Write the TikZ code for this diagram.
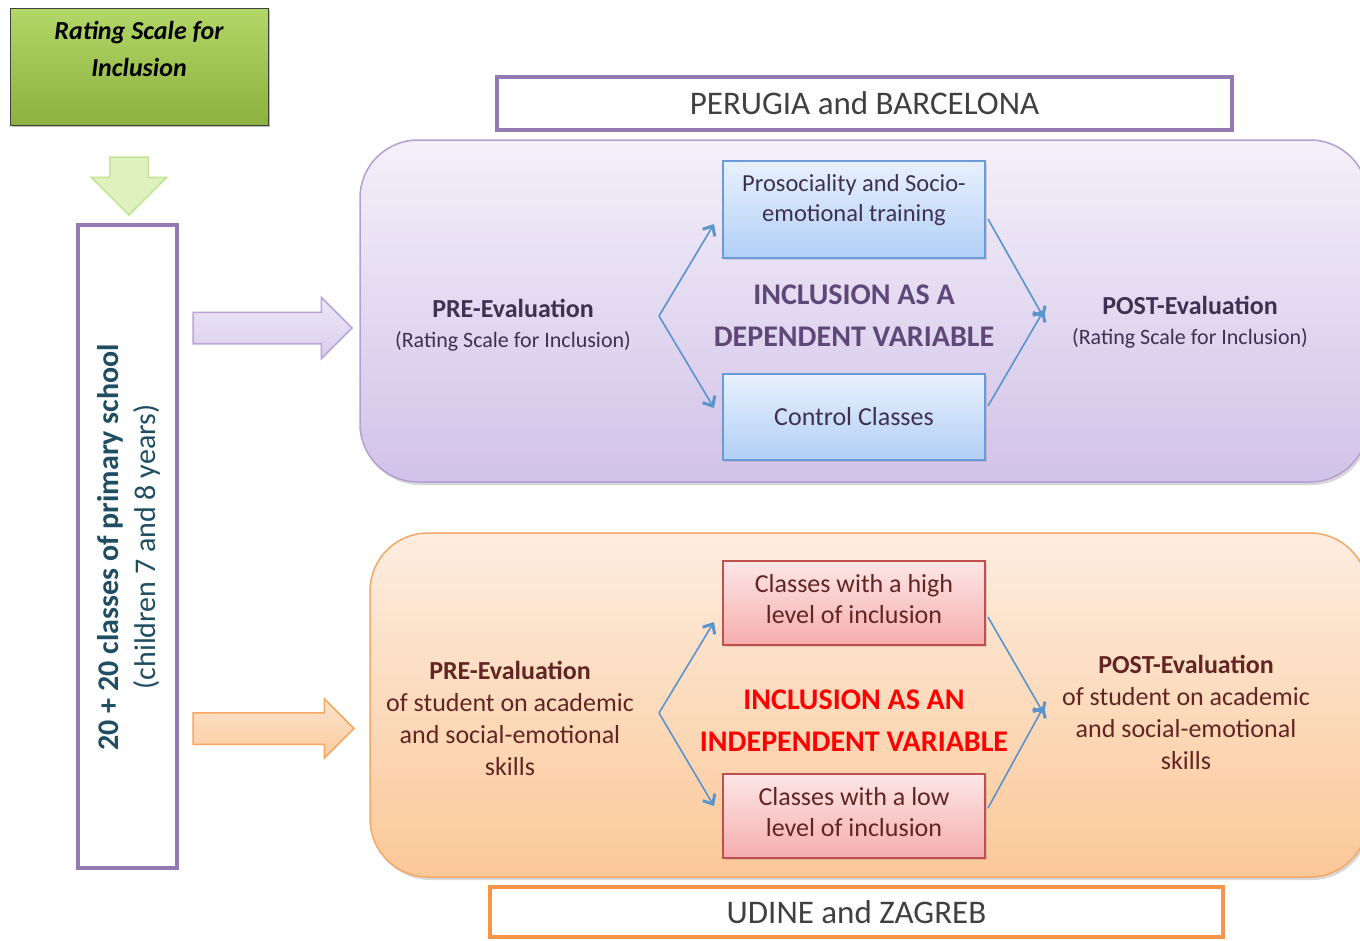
\documentclass[tikz,border=0pt]{standalone}
\usepackage{fontspec}
\setmainfont{Carlito}
\usetikzlibrary{shapes.arrows,arrows.meta,shadows,calc}
\definecolor{purpEdge}{HTML}{9579B3}
\definecolor{panelTopA}{HTML}{F4F0FA}
\definecolor{panelBotA}{HTML}{D2C2E8}
\definecolor{panelEdgeA}{HTML}{B49FD2}
\definecolor{panelTopB}{HTML}{FDEDE0}
\definecolor{panelBotB}{HTML}{FBC898}
\definecolor{panelEdgeB}{HTML}{F4A867}
\definecolor{orangeEdge}{HTML}{F79646}
\definecolor{blueTop}{HTML}{E8F1FD}
\definecolor{blueBot}{HTML}{B2CFF6}
\definecolor{blueEdge}{HTML}{6A9BD8}
\definecolor{redTop}{HTML}{FDE6E6}
\definecolor{redBot}{HTML}{F5AEAE}
\definecolor{redEdge}{HTML}{C0504D}
\definecolor{connBlue}{HTML}{5B93CC}
\definecolor{txtPurple}{HTML}{3F3151}
\definecolor{txtCenterA}{HTML}{5F4879}
\definecolor{txtBrown}{HTML}{632523}
\definecolor{txtTeal}{HTML}{1F4E63}
\definecolor{txtGrey}{HTML}{404040}
\definecolor{greenTop}{HTML}{B3D768}
\definecolor{greenBot}{HTML}{8CB13E}
\definecolor{greenArrowFill}{HTML}{DDF2BE}
\definecolor{greenArrowEdge}{HTML}{C4E394}
\definecolor{lavArrowTop}{HTML}{EDE8F6}
\definecolor{lavArrowBot}{HTML}{D9CDEC}
\definecolor{lavArrowEdge}{HTML}{B9A6D8}
\definecolor{orArrowTop}{HTML}{FDE3CC}
\definecolor{orArrowBot}{HTML}{FBCB9E}
\definecolor{orArrowEdge}{HTML}{F5A764}
\begin{document}
\begin{tikzpicture}[x=1pt,y=-1pt,
  every node/.style={inner sep=0pt, outer sep=0pt},
  titlebox/.style={draw, line width=4pt, fill=white, font=\fontsize{33}{36}\selectfont, text=txtGrey},
  panel/.style={rectangle, rounded corners=58pt, line width=1.5pt},
  bluebox/.style={draw=blueEdge, line width=1.2pt, top color=blueTop, bottom color=blueBot,
     minimum width=262pt, font=\fontsize{26}{30}\selectfont, text=txtPurple, align=center,
     drop shadow={shadow xshift=2pt, shadow yshift=-2pt, opacity=0.25}},
  redbox/.style={draw=redEdge, line width=1.2pt, top color=redTop, bottom color=redBot,
     minimum width=262pt, minimum height=84pt,
     drop shadow={shadow xshift=2pt, shadow yshift=-2pt, opacity=0.25}},
  evaltext/.style={align=center, font=\fontsize{26}{30}\selectfont},
  conn/.style={draw=connBlue, line width=1.6pt, -{Straight Barb[length=8pt,width=14pt,line width=3pt]}},
  bigarrow/.style={single arrow, single arrow head extend=15pt, single arrow head indent=0pt,
     inner sep=15pt, line width=1.5pt}
]
\useasboundingbox (0,0) rectangle (1360,940);
\clip (0,0) rectangle (1360,940);
\fill[white] (0,0) rectangle (1360,940);

% green source box
\node[draw=black!75, line width=1pt, top color=greenTop, bottom color=greenBot,
      minimum width=258pt, minimum height=117pt,
      drop shadow={shadow xshift=2pt, shadow yshift=-2pt, opacity=0.5}] (gbox) at (139,66.5) {};
\node[align=center, font=\fontsize{26}{37}\selectfont\bfseries\itshape] (gtext) at (139,49)
  {Rating Scale for\\Inclusion};

% green down arrow
\node[bigarrow, shape border rotate=270, fill=greenArrowFill, draw=greenArrowEdge,
      inner sep=18.5pt, single arrow head extend=18.5pt, minimum height=58pt, anchor=tip] (garrow) at (129,215) {};

% tall classes box
\node[draw=purpEdge, line width=4pt, fill=white, minimum width=99pt, minimum height=643pt] (classes) at (127.5,546.5) {};
\node[rotate=90, align=center, text=txtTeal, font=\fontsize{30}{37}\selectfont] (classtext) at (129,547)
  {\textbf{20 + 20 classes of primary school}\\(children 7 and 8 years)};

% big horizontal arrows
\node[bigarrow, shape border rotate=0, top color=lavArrowTop, bottom color=lavArrowBot, draw=lavArrowEdge,
      minimum height=159pt, minimum width=60pt, anchor=tip] (parrow) at (352,328) {};
\node[bigarrow, shape border rotate=0, top color=orArrowTop, bottom color=orArrowBot, draw=orArrowEdge,
      minimum height=161pt, minimum width=58pt, inner sep=15pt, single arrow head extend=14pt, anchor=tip] (oarrow) at (354,728.5) {};

% title boxes
\node[titlebox, draw=purpEdge, minimum width=735pt, minimum height=53pt] (perugia) at (864.5,103.5) {PERUGIA and BARCELONA};

% upper panel
\node[panel, draw=panelEdgeA, top color=panelTopA, bottom color=panelBotA,
      minimum width=1008pt, minimum height=342pt,
      drop shadow={shadow xshift=2pt, shadow yshift=-3pt, opacity=0.3}] (panelA) at (864,311) {};

\node[bluebox, minimum height=97pt] (proso) at (854,209.5) {};
\node[evaltext, text=txtPurple, font=\fontsize{24.5}{30}\selectfont] (prosotext) at (854,200) {Prosociality and Socio-\\emotional training};
\node[bluebox, minimum height=86pt] (control) at (854,417) {Control Classes};

\node[align=center, text=txtCenterA, font=\fontsize{30}{42}\selectfont\bfseries] (depvar) at (854,316)
  {INCLUSION AS A\\DEPENDENT VARIABLE};

\node[evaltext, text=txtPurple] (preA) at (513,325)
  {\textbf{PRE-Evaluation}\\{\fontsize{22}{30}\selectfont(Rating Scale for Inclusion)}};
\node[evaltext, text=txtPurple] (postA) at (1190,322)
  {\textbf{POST-Evaluation}\\{\fontsize{22}{30}\selectfont(Rating Scale for Inclusion)}};

\coordinate (forkA) at (659,316);
\coordinate (joinA) at (1044,314);
\draw[conn] (forkA) -- ([shift={(-9,14.5)}]proso.west);
\draw[conn] (forkA) -- ([shift={(-9,-9)}]control.west);
\draw[conn] ([shift={(3,9.5)}]proso.east) -- ([yshift=-4]joinA);
\draw[conn] ([shift={(3,-11)}]control.east) -- ([yshift=4]joinA);

% lower panel
\node[panel, draw=panelEdgeB, top color=panelTopB, bottom color=panelBotB,
      minimum width=998pt, minimum height=344pt,
      drop shadow={shadow xshift=2pt, shadow yshift=-3pt, opacity=0.3}] (panelB) at (869,705) {};

\node[redbox] (high) at (854,603) {};
\node[evaltext, text=txtBrown, font=\fontsize{26}{31}\selectfont] (hightext) at (854,599) {Classes with a high\\level of inclusion};
\node[redbox] (low) at (854,816) {};
\node[evaltext, text=txtBrown, font=\fontsize{26}{31}\selectfont] (lowtext) at (854,812) {Classes with a low\\level of inclusion};

\node[align=center, text=red, font=\fontsize{30}{42}\selectfont\bfseries] (indepvar) at (854,721)
  {INCLUSION AS AN\\INDEPENDENT VARIABLE};

\node[evaltext, text=txtBrown, font=\fontsize{26}{32}\selectfont] (preB) at (510,718.5)
  {\textbf{PRE-Evaluation}\\of student on academic\\and social-emotional\\skills};
\node[evaltext, text=txtBrown, font=\fontsize{26}{32}\selectfont] (postB) at (1186,712.5)
  {\textbf{POST-Evaluation}\\of student on academic\\and social-emotional\\skills};

\coordinate (forkB) at (659,713);
\coordinate (joinB) at (1044,710);
\draw[conn] (forkB) -- ([shift={(-9,19)}]high.west);
\draw[conn] (forkB) -- ([shift={(-9,-10)}]low.west);
\draw[conn] ([shift={(3,14)}]high.east) -- ([yshift=-4]joinB);
\draw[conn] ([shift={(3,-8)}]low.east) -- ([yshift=4]joinB);

\node[titlebox, draw=orangeEdge, minimum width=733pt, minimum height=50pt] (udine) at (856.5,912) {UDINE and ZAGREB};
\end{tikzpicture}
\end{document}
